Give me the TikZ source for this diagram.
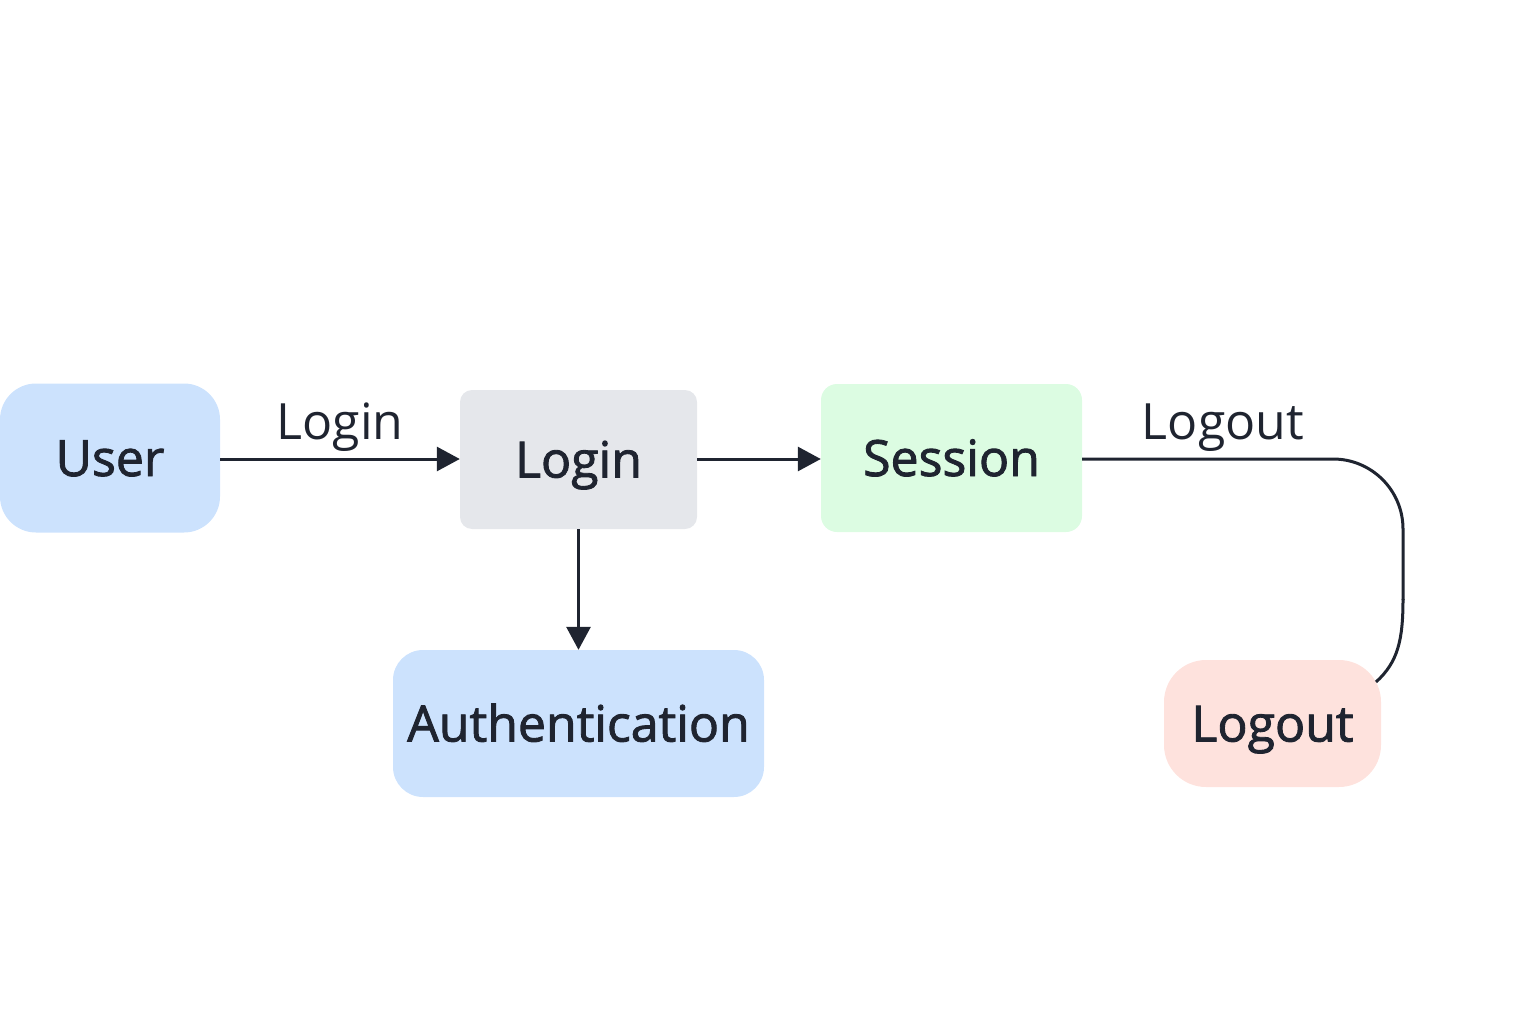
\documentclass[tikz,border=0pt]{standalone}
\usepackage{fontspec}
\setmainfont{Open Sans}
\newfontfamily\nodefont[FakeBold=1.8]{Open Sans}
\usetikzlibrary{arrows.meta}
\definecolor{ink}{HTML}{1F2430}
\definecolor{blueF}{HTML}{CCE2FD}
\definecolor{grayF}{HTML}{E5E7EB}
\definecolor{greenF}{HTML}{DCFCE2}
\definecolor{redF}{HTML}{FEE2DD}
\tikzset{
  box/.style={inner sep=0pt, text=ink, text height=36pt, text depth=0pt, font=\nodefont\fontsize{50}{60}\selectfont},
  conn/.style={draw=ink, line width=3pt},
  arr/.style={conn, -{Triangle[length=23pt,width=24pt]}},
  lbl/.style={text=ink, text height=36pt, text depth=0pt, font=\fontsize{50}{60}\selectfont, inner sep=0pt}
}
\begin{document}
\begin{tikzpicture}[x=1pt,y=-1pt]
\useasboundingbox (0,0) rectangle (1536,1024);
\node[box, fill=blueF, rounded corners=36pt, minimum width=220pt, minimum height=149pt] (user) at (110,458) {User};
\node[box, fill=grayF, rounded corners=12pt, minimum width=237pt, minimum height=139pt] (login) at (578.5,459.5) {Login};
\node[box, fill=greenF, rounded corners=16pt, minimum width=261pt, minimum height=148pt] (session) at (951.5,458) {Session};
\node[box, fill=blueF, rounded corners=30pt, minimum width=371pt, minimum height=147pt] (auth) at (578.5,723.5) {Authentication};
\node[box, fill=redF, rounded corners=42pt, minimum width=217pt, minimum height=127pt] (logout) at (1272.5,723.5) {Logout};
\coordinate (lend) at (1376,682);
\coordinate (turn) at (1403,459);
\draw[arr] (user.east |- 0,459) -- (login.west |- 0,459);
\node[lbl] (l1) at (340,421) {Login};
\draw[arr] (login.east |- 0,459) -- (session.west |- 0,459);
\draw[arr] (login.south) -- (auth.north);
\draw[conn, rounded corners=70pt] (session.east |- 0,459) -- (turn) -- (1403,600);
\draw[conn] (1403,599) .. controls (1403,640) and (1398,662) .. (lend);
\node[lbl] (l2) at (1223,421) {Logout};
\end{tikzpicture}
\end{document}
